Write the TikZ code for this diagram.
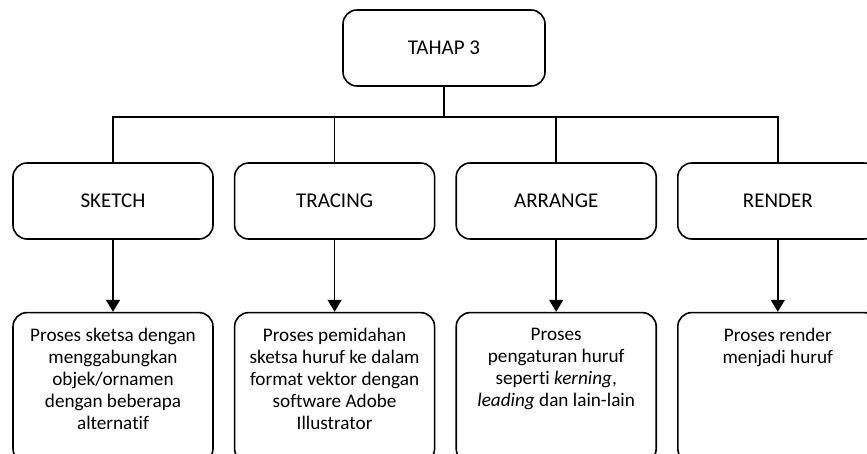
\documentclass[tikz,border=0pt]{standalone}
\usepackage{fontspec}
\setmainfont{Carlito}[Ligatures=NoCommon]
\usepackage{tikz}
\usetikzlibrary{positioning}
\usetikzlibrary{arrows.meta}

\begin{document}
\begin{tikzpicture}[
          x=0.5pt,y=-0.5pt,
          line width=0.8pt,
          node distance=36pt and 10pt,
          stagebox/.style={draw,rounded corners=7pt,minimum width=100pt,minimum height=38pt,
                           align=center,font=\fontsize{10.5}{12}\selectfont},
          descbox/.style={draw,rounded corners=7pt,minimum width=100pt,minimum height=75pt,
                          anchor=north,inner sep=0pt},
          desctext/.style={anchor=north,align=center,inner sep=0pt,
                           font=\fontsize{9.6}{11}\selectfont},
          arrowtip/.style={-{Triangle[width=7pt,length=6pt]}}
          ]
          \useasboundingbox (0,0) rectangle (867,454);

          \node[stagebox,minimum width=101pt] (tahap) at (444,48) {TAHAP 3};

          \node[stagebox] (sketch) at (113,201) {SKETCH};
          \node[stagebox,right=of sketch] (tracing) {TRACING};
          \node[stagebox,right=of tracing] (arrange) {ARRANGE};
          \node[stagebox,right=of arrange] (render) {RENDER};

          \coordinate (bus) at (444,117);

          % descriptions
          \node[descbox,below=of sketch.south] (dsketch) {};
          \node[descbox,below=of tracing.south] (dtracing) {};
          \node[descbox,below=of arrange.south] (darrange) {};
          \node[descbox,below=of render.south] (drender) {};

          \node[desctext] (tsketch) at ([yshift=-8pt]dsketch.north)
               {Proses sketsa dengan\\menggabungkan\\objek/ornamen\\dengan beberapa\\alternatif};
          \node[desctext] (ttracing) at ([yshift=-8pt]dtracing.north)
               {Proses pemidahan\\sketsa huruf ke dalam\\format vektor dengan\\software Adobe\\Illustrator};
          \node[desctext] (tarrange) at ([yshift=-8pt]darrange.north)
               {Proses\\pengaturan huruf\\seperti \textit{kerning},\\\textit{leading} dan lain-lain};
          \node[desctext] (trender) at ([yshift=-8pt]drender.north)
               {Proses render\\menjadi huruf};

          \draw (tahap.south) -- (bus);
          \draw (sketch.north) -- (sketch.north |- bus) -- (render.north |- bus) -- (render.north);
          \draw (tracing.north) -- (tracing.north |- bus);
          \draw (arrange.north) -- (arrange.north |- bus);

          \draw[arrowtip] (sketch) -- (dsketch);
          \draw[arrowtip] (tracing) -- (dtracing);
          \draw[arrowtip] (arrange) -- (darrange);
          \draw[arrowtip] (render) -- (drender);
        \end{tikzpicture}
\end{document}
